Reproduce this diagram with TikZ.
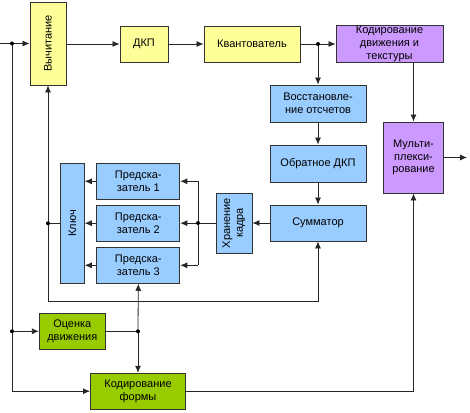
\documentclass[tikz,border=0pt]{standalone}
\usepackage{fontspec}
\setmainfont{Liberation Sans}
\usepackage{tikz}
\usetikzlibrary{arrows.meta,positioning,calc}
\definecolor{boxyellow}{RGB}{255,255,153}
\definecolor{boxblue}{RGB}{153,204,255}
\definecolor{boxviolet}{RGB}{204,153,255}
\definecolor{boxgreen}{RGB}{153,204,0}
\newcommand{\twolines}[2]{\begin{tabular}{@{}c@{}}#1\\#2\end{tabular}}

\begin{document}
\begin{tikzpicture}[
x=1pt, y=-1pt,
Box/.style={draw=black!80,line width=0.9pt,inner sep=1pt,align=center,
  font=\fontsize{11}{12.7}\selectfont},
YellowBox/.style={Box,fill=boxyellow},
BlueBox/.style={Box,fill=boxblue},
VioletBox/.style={Box,fill=boxviolet},
GreenBox/.style={Box,fill=boxgreen},
Link/.style={draw=black!85,line width=0.8pt},
Arr/.style={Link,-{Latex[length=7pt,width=6pt]}},
MyPoints/.style={fill=black}
]
\useasboundingbox (0,0) rectangle (470,412);

% upper chain
\node[YellowBox,minimum width=36,minimum height=83] (sub) at (48,43.5) {\rotatebox{90}{Вычитание}};
\node[YellowBox,minimum width=48,minimum height=36] (dct) at (144,44) {ДКП};
\node[YellowBox,minimum width=96,minimum height=36] (quant) at (252,44) {Квантователь};
\node[VioletBox,minimum width=107,minimum height=36] (mtc) at (389.5,44) {Кодирование\\движения и\\текстуры};

% inverse chain
\node[BlueBox,minimum width=96,minimum height=37] (rest) at (318,103.5) {Восстановле-\\ние отсчетов};
\node[BlueBox,minimum width=96,minimum height=37] (idct) at (318,163.5) {Обратное ДКП};
\node[BlueBox,minimum width=96,minimum height=36] (summ) at (318,223) {Сумматор};
\node[BlueBox,minimum width=36,minimum height=60] (store) at (234,223) {\rotatebox{90}{\twolines{Хранение}{кадра}}};

% predictors
\node[BlueBox,minimum width=83,minimum height=36] (predA) at (138.3,181.3) {Предска-\\затель 1};
\node[BlueBox,minimum width=83,minimum height=36] (predB) at (138.3,223.2) {Предска-\\затель 2};
\node[BlueBox,minimum width=83,minimum height=36] (predC) at (138.3,265.3) {Предска-\\затель 3};
\node[BlueBox,minimum width=24,minimum height=120] (key) at (72.3,223.3) {\rotatebox{90}{Ключ}};

% multiplexer
\node[VioletBox,minimum width=60,minimum height=71] (mux) at (413.5,157.5) {Мульти-\\плекси-\\рование};

% lower part
\node[GreenBox,minimum width=66,minimum height=36] (est) at (72.3,331.3) {Оценка\\движения};
\node[GreenBox,minimum width=95,minimum height=36] (shape) at (138,391.2) {Кодирование\\формы};

% junctions
\coordinate (in) at (0,43.5);
\coordinate (out) at (467,157.5);
\coordinate (splitA) at (12,43.5);
\coordinate (splitB) at (318,44);
\coordinate (splitC) at (198,223);
\coordinate (splitD) at (138,331.3);
\coordinate (splitE) at (12,331.3);
\coordinate (keyjoin) at (48,223.3);

% connectors
\draw[Arr] (in) -- (sub.west);
\draw[Arr] (sub.east |- dct) -- (dct.west);
\draw[Arr] (dct) -- (quant);
\draw[Arr] (quant.east) -- (mtc.west);
\draw[Arr] (splitB) -- (rest.north);
\draw[Arr] (rest) -- (idct);
\draw[Arr] (idct) -- (summ);
\draw[Arr] (summ.west) -- (store.east);
\draw[Link] (store.west) -- (splitC);
\draw[Link] (splitC |- predA) -- (splitC |- predC);
\foreach \p in {predA,predB,predC}{
  \draw[Arr] (splitC |- \p) -- (\p.east);
  \draw[Arr] (\p.west) -- (key.east |- \p);
}
\draw[Link] (key.west |- keyjoin) -- (keyjoin);
\draw[Arr] (keyjoin) -- (sub.south);
\draw[Arr] (keyjoin) -- (48,301) -| (summ.south);
\draw[Arr] (mtc.south -| mux) -- (mux.north);
\draw[Arr] (mux.east) -- (out);
\draw[Link] (splitA) -- (splitE);
\draw[Arr] (splitE) -- (est.west);
\draw[Arr] (splitE) |- (shape.west);
\draw[Link] (est.east) -- (splitD);
\draw[Arr] (splitD) -- (predC.south);
\draw[Arr] (splitD) -- (shape.north);
\draw[Arr] (shape.east) -| (mux.south);

\foreach \c in {splitA,splitB,splitC,splitD,splitE,keyjoin}
  \fill[MyPoints] (\c) circle (2);
\end{tikzpicture}
\end{document}
